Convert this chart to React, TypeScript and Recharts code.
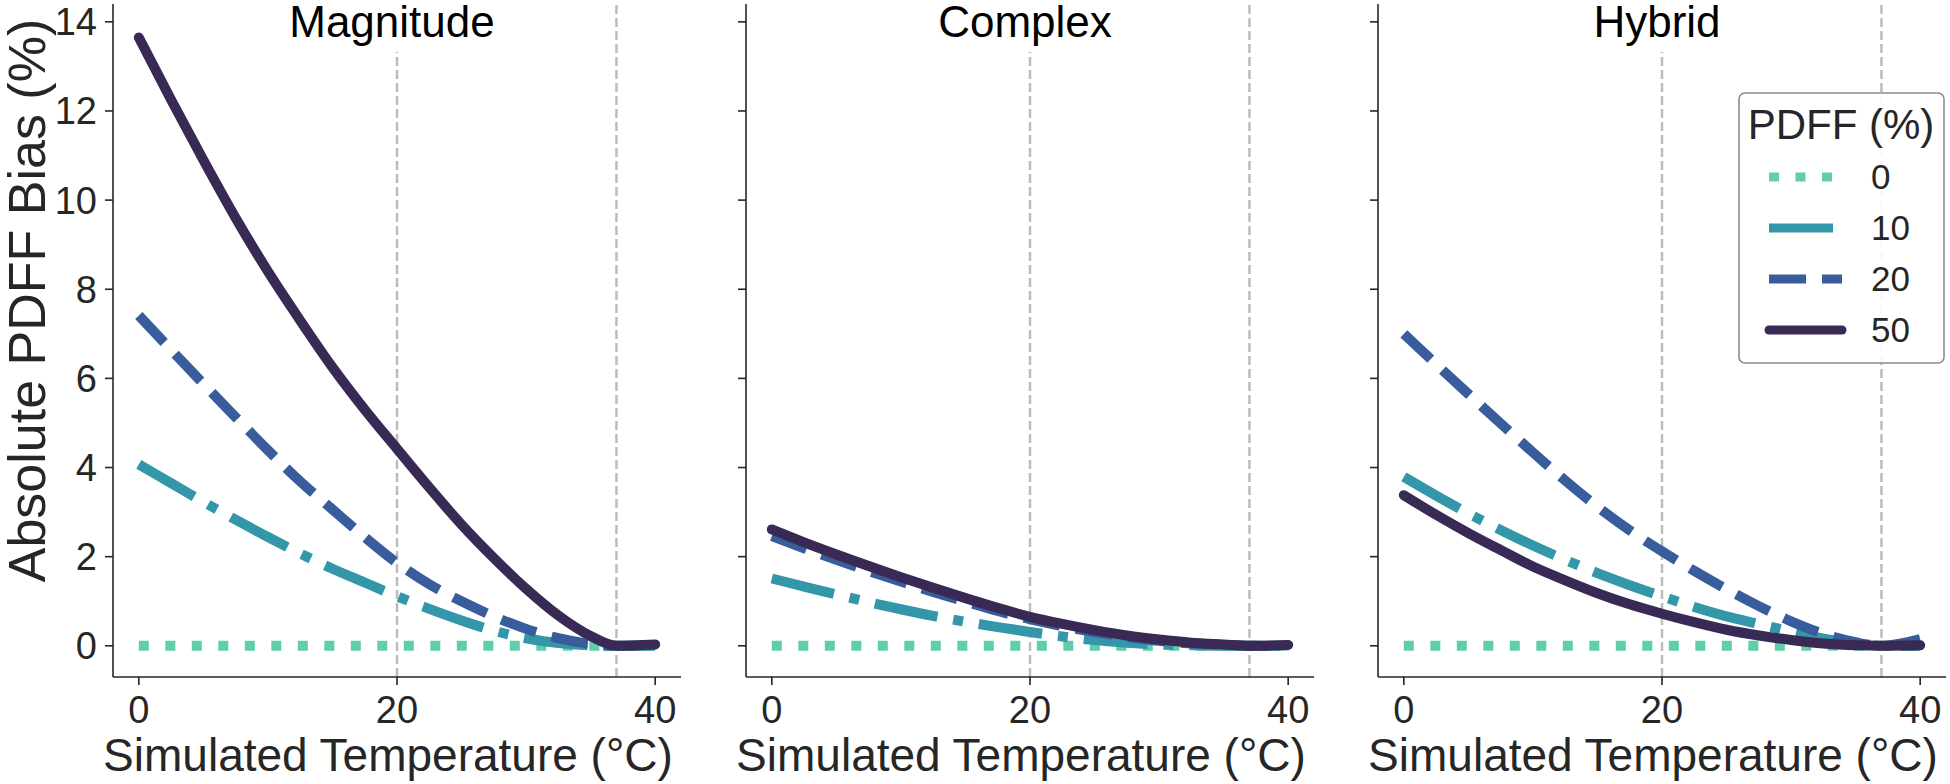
import { LineChart, Line, XAxis, YAxis, ReferenceLine } from 'recharts'

const FONT = '"Liberation Sans", Arial, Helvetica, sans-serif'
const INK = '#262626'

// simulated temperature (°C)
const temps = [0, 2.5, 5, 7.5, 10, 12.5, 15, 17.5, 20, 22.5, 25, 27.5, 30, 32.5, 35, 37, 40]

const pdffLevels = ['0', '10', '20', '50']
const seriesColors = ['#60ceac', '#3497a9', '#395d9c', '#382a54']
const seriesDash = ['10 16.5', '64 16 10 16', '37 16', undefined]
const seriesCap = ['butt', 'butt', 'butt', 'round']

const xTicks = [0, 20, 40]
const yTicks = [0, 2, 4, 6, 8, 10, 12, 14]
const refTemps = [20, 37]

// absolute PDFF bias (%) per method and true PDFF
const magnitude0 = [0, 0, 0, 0, 0, 0, 0, 0, 0, 0, 0, 0, 0, 0, 0, 0, 0]
const magnitude10 = [4.07, 3.65, 3.23, 2.83, 2.44, 2.07, 1.73, 1.42, 1.11, 0.83, 0.57, 0.34, 0.17, 0.06, 0.01, 0, 0]
const magnitude20 = [7.41, 6.64, 5.88, 5.13, 4.39, 3.69, 3.06, 2.44, 1.86, 1.38, 1.0, 0.66, 0.38, 0.17, 0.04, 0, 0.01]
const magnitude50 = [13.65, 12.25, 10.9, 9.6, 8.4, 7.3, 6.25, 5.3, 4.42, 3.55, 2.72, 1.97, 1.28, 0.68, 0.22, 0, 0.03]

const complex0 = [0, 0, 0, 0, 0, 0, 0, 0, 0, 0, 0, 0, 0, 0, 0, 0, 0]
const complex10 = [1.51, 1.33, 1.15, 0.98, 0.82, 0.67, 0.54, 0.42, 0.31, 0.21, 0.13, 0.07, 0.03, 0.01, 0, 0, 0]
const complex20 = [2.46, 2.19, 1.93, 1.68, 1.44, 1.21, 0.99, 0.78, 0.6, 0.44, 0.31, 0.2, 0.11, 0.05, 0.02, 0, 0.01]
const complex50 = [2.61, 2.32, 2.05, 1.79, 1.54, 1.3, 1.07, 0.85, 0.65, 0.49, 0.35, 0.23, 0.14, 0.07, 0.03, 0, 0.02]

const hybrid0 = [0, 0, 0, 0, 0, 0, 0, 0, 0, 0, 0, 0, 0, 0, 0, 0, 0]
const hybrid10 = [3.79, 3.37, 2.97, 2.6, 2.25, 1.93, 1.63, 1.36, 1.11, 0.87, 0.66, 0.49, 0.32, 0.16, 0.05, 0, 0]
const hybrid20 = [7.0, 6.32, 5.65, 4.99, 4.34, 3.71, 3.12, 2.59, 2.12, 1.68, 1.27, 0.89, 0.55, 0.27, 0.08, 0, 0.15]
const hybrid50 = [3.38, 2.94, 2.53, 2.15, 1.78, 1.47, 1.18, 0.93, 0.72, 0.53, 0.36, 0.23, 0.13, 0.05, 0.01, 0, 0.01]

const panels = [
  { title: 'Magnitude', series: [magnitude0, magnitude10, magnitude20, magnitude50], left: 0, width: 690, yWidth: 113, right: 9 },
  { title: 'Complex', series: [complex0, complex10, complex20, complex50], left: 690, width: 630, yWidth: 56, right: 6 },
  { title: 'Hybrid', series: [hybrid0, hybrid10, hybrid20, hybrid50], left: 1320, width: 630, yWidth: 58, right: 4 }
]

const axisStyle = { stroke: INK, strokeWidth: 1.6 }
const tickStyle = { fill: INK, fontSize: 38, fontFamily: FONT }

const TitleLabel = (props: any) => {
  const vb = props.viewBox
  if (!vb) return null
  const cx = vb.x - 5
  return (
    <g>
      <rect x={cx - 118} y={0} width={236} height={52} fill="#ffffff" />
      <text x={cx} y={37} textAnchor="middle" fontSize={44} fontFamily={FONT} fill="#000">
        {props.title}
      </text>
    </g>
  )
}

const XLabel = (props: any) => {
  const vb = props.viewBox
  if (!vb) return null
  return (
    <text x={vb.x + vb.width / 2 - 9} y={771} textAnchor="middle" fontSize={46} fontFamily={FONT} fill={INK}>
      Simulated Temperature (°C)
    </text>
  )
}

const YLabel = (props: any) => {
  const vb = props.viewBox
  if (!vb) return null
  const cy = vb.y + vb.height / 2 - 40
  return (
    <text
      x={45}
      y={cy}
      transform={`rotate(-90, 45, ${cy})`}
      textAnchor="middle"
      fontSize={52}
      fontFamily={FONT}
      fill={INK}
    >
      Absolute PDFF Bias (%)
    </text>
  )
}

const Panel = ({ panel, first }: { panel: (typeof panels)[number]; first: boolean }) => {
  const rows = temps.map((t, i) => {
    const row: Record<string, number> = { t }
    pdffLevels.forEach((lvl, k) => {
      row['p' + lvl] = panel.series[k][i]
    })
    return row
  })

  return (
    <div style={{ position: 'absolute', left: panel.left, top: 0 }}>
      <LineChart
        width={panel.width}
        height={784}
        data={rows}
        margin={{ top: 4, right: panel.right, bottom: 0, left: 0 }}
      >
        <XAxis
          dataKey="t"
          type="number"
          domain={[-2, 42]}
          ticks={xTicks}
          height={107}
          tickSize={8}
          tickMargin={11}
          axisLine={axisStyle}
          tickLine={axisStyle}
          tick={tickStyle}
          label={(p: any) => <XLabel {...p} />}
        />
        <YAxis
          type="number"
          domain={[-0.7, 14.4]}
          ticks={yTicks}
          width={panel.yWidth}
          tickSize={8}
          tickMargin={8}
          axisLine={axisStyle}
          tickLine={axisStyle}
          tick={tickStyle}
          tickFormatter={first ? undefined : () => ''}
          label={first ? (p: any) => <YLabel {...p} /> : undefined}
        />
        {refTemps.map((rt) => (
          <ReferenceLine
            key={rt}
            x={rt}
            stroke="#bdbdbd"
            strokeWidth={2.5}
            strokeDasharray="9 4"
            label={rt === 20 ? (p: any) => <TitleLabel {...p} title={panel.title} /> : undefined}
          />
        ))}
        {pdffLevels.map((lvl, k) => (
          <Line
            key={lvl}
            dataKey={'p' + lvl}
            type="monotone"
            stroke={seriesColors[k]}
            strokeWidth={10}
            strokeDasharray={seriesDash[k]}
            strokeLinecap={seriesCap[k] as any}
            dot={false}
            activeDot={false}
            isAnimationActive={false}
          />
        ))}
      </LineChart>
    </div>
  )
}

const LegendBox = () => (
  <svg width={210} height={276} style={{ position: 'absolute', left: 1737, top: 91 }}>
    <rect x={2} y={2} width={205} height={270} rx={6} fill="#ffffff" fillOpacity={0.9} stroke="#8c8c8c" strokeWidth={1.6} />
    <text x={104} y={48} textAnchor="middle" fontSize={42} fontFamily={FONT} fill={INK}>
      PDFF (%)
    </text>
    {pdffLevels.map((lvl, k) => {
      const y = 86 + k * 51
      return (
        <g key={lvl}>
          <line
            x1={32}
            x2={105}
            y1={y}
            y2={y}
            stroke={seriesColors[k]}
            strokeWidth={9}
            strokeDasharray={seriesDash[k]}
            strokeLinecap={seriesCap[k] as any}
          />
          <text x={134} y={y} dy="0.355em" fontSize={35} fontFamily={FONT} fill={INK}>
            {lvl}
          </text>
        </g>
      )
    })}
  </svg>
)

export default function App() {
  return (
    <div style={{ position: 'absolute', left: 0, top: 0, width: 1950, height: 784, background: '#ffffff' }}>
      {panels.map((panel, i) => (
        <Panel key={panel.title} panel={panel} first={i === 0} />
      ))}
      <LegendBox />
    </div>
  )
}
